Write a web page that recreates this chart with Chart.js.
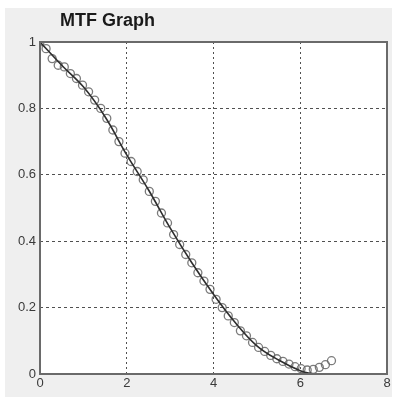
<!DOCTYPE html>
<html>
<head>
<meta charset="utf-8">
<script src="https://cdn.jsdelivr.net/npm/chart.js@4"></script>
<style>
  html, body { margin: 0; padding: 0; background: #fff; }
  #wrap { position: relative; width: 397px; height: 401px; }
</style>
</head>
<body>
<div id="wrap"><canvas id="mtfChart" width="397" height="401"></canvas></div>
<script>
// Datos medidos (círculos)
const puntosX = [0, 0.14, 0.28, 0.42, 0.56, 0.70, 0.84, 0.98, 1.12, 1.26, 1.40, 1.54, 1.68, 1.82, 1.96,
  2.10, 2.24, 2.38, 2.52, 2.66, 2.80, 2.94, 3.08, 3.22, 3.36, 3.50, 3.64, 3.78, 3.92, 4.06, 4.20,
  4.34, 4.48, 4.62, 4.76, 4.90, 5.04, 5.18, 5.32, 5.46, 5.60, 5.74, 5.88, 6.02, 6.16, 6.30, 6.44, 6.58, 6.72];
const puntosY = [1.0, 0.98, 0.95, 0.93, 0.925, 0.905, 0.89, 0.87, 0.85, 0.825, 0.80, 0.77, 0.735, 0.70, 0.665,
  0.64, 0.61, 0.585, 0.55, 0.52, 0.485, 0.455, 0.42, 0.39, 0.36, 0.335, 0.305, 0.28, 0.255, 0.225, 0.20,
  0.175, 0.155, 0.13, 0.115, 0.095, 0.08, 0.068, 0.056, 0.046, 0.038, 0.03, 0.022, 0.016, 0.012, 0.014, 0.02, 0.028, 0.04];

// Curva ajustada (línea)
const curvaX = [0, 0.5, 1.0, 1.5, 2.0, 2.5, 3.0, 3.5, 4.0, 4.5, 5.0, 5.5, 6.0, 6.3];
const curvaY = [1.0, 0.93, 0.865, 0.775, 0.66, 0.555, 0.44, 0.335, 0.24, 0.155, 0.085, 0.042, 0.01, 0.0];

const ejeX = [0, 2, 4, 6, 8];
const ejeY = [0, 0.2, 0.4, 0.6, 0.8, 1];

const titulo = 'MTF Graph';

// Fondo gris, marco y título
const marcoPlugin = {
  id: 'marco',
  beforeDraw(chart) {
    const ctx = chart.ctx;
    const a = chart.chartArea;
    ctx.save();
    ctx.fillStyle = '#efefef';
    ctx.fillRect(5, 8, 387, 389);
    ctx.fillStyle = '#ffffff';
    ctx.fillRect(a.left, a.top, a.right - a.left, a.bottom - a.top);
    ctx.fillStyle = '#1a1a1a';
    ctx.font = 'bold 18px "Liberation Sans", Arial, sans-serif';
    ctx.textBaseline = 'alphabetic';
    ctx.fillText(titulo, 60, 26);
    ctx.restore();
  },
  afterDraw(chart) {
    const ctx = chart.ctx;
    const a = chart.chartArea;
    ctx.save();
    ctx.strokeStyle = '#6a6a6a';
    ctx.lineWidth = 2;
    ctx.strokeRect(a.left, a.top, a.right - a.left, a.bottom - a.top);
    ctx.restore();
  }
};

const ctx = document.getElementById('mtfChart').getContext('2d');
new Chart(ctx, {
  type: 'scatter',
  data: {
    datasets: [{
      label: 'Curva',
      type: 'line',
      data: curvaX.map((x, i) => ({ x: x, y: curvaY[i] })),
      borderColor: '#2e2e2e',
      borderWidth: 1.6,
      pointRadius: 0,
      tension: 0.4,
      fill: false
    }, {
      label: 'Medido',
      data: puntosX.map((x, i) => ({ x: x, y: puntosY[i] })),
      borderColor: 'rgba(100, 100, 100, 0.85)',
      backgroundColor: 'rgba(0,0,0,0)',
      borderWidth: 1.3,
      pointRadius: 4
    }]
  },
  options: {
    responsive: false,
    animation: false,
    layout: { padding: { left: 0, top: 42, right: 10, bottom: 7 } },
    plugins: {
      legend: { display: false },
      title: { display: false },
      tooltip: { enabled: false }
    },
    scales: {
      x: {
        type: 'linear',
        min: ejeX[0],
        max: ejeX[ejeX.length - 1],
        afterBuildTicks: s => { s.ticks = ejeX.map(v => ({ value: v })); },
        afterFit: s => { s.height = 20; },
        ticks: { color: '#3a3a3a', font: { size: 13, family: 'Liberation Sans, Arial, sans-serif' }, padding: 2, maxRotation: 0,
          callback: v => String(v) },
        grid: { color: '#505050', lineWidth: 1, drawTicks: false },
        border: { display: false, dash: [2, 3] }
      },
      y: {
        type: 'linear',
        min: ejeY[0],
        max: ejeY[ejeY.length - 1],
        afterBuildTicks: s => { s.ticks = ejeY.map(v => ({ value: v })); },
        afterFit: s => { s.width = 40; },
        ticks: { color: '#3a3a3a', font: { size: 13, family: 'Liberation Sans, Arial, sans-serif' }, padding: 4,
          callback: v => String(Math.round(v * 10) / 10) },
        grid: { color: '#505050', lineWidth: 1, drawTicks: false },
        border: { display: false, dash: [3, 3] }
      }
    }
  },
  plugins: [marcoPlugin]
});
</script>
</body>
</html>
